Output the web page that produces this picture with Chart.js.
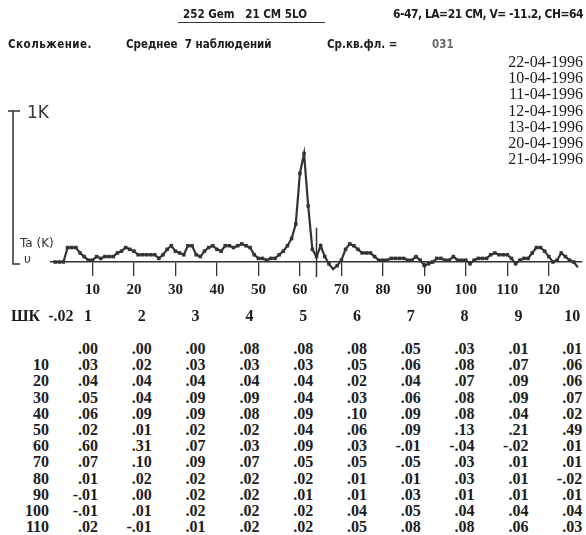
<!DOCTYPE html>
<html>
<head>
<meta charset="utf-8">
<script src="https://cdn.jsdelivr.net/npm/chart.js@4.4.0/dist/chart.umd.min.js"></script>
<style>
body { margin: 0; background: #fff; width: 586px; height: 535px; position: relative; overflow: hidden; color: #1c1c1c; }
#c { position: absolute; left: 0; top: 0; }
.t { position: absolute; white-space: nowrap; line-height: 16px; }
.hd { font-family: "DejaVu Sans Condensed", "DejaVu Sans", sans-serif; font-size: 11.5px; font-weight: bold; }
.sr { font-family: "Liberation Serif", serif; font-size: 16px; font-weight: bold; }
.hw { font-family: "DejaVu Sans", sans-serif; font-weight: normal; color: #333; }
</style>
</head>
<body>
<canvas id="c" width="586" height="306"></canvas>

<div class="t hd" style="left:183px;top:6px">252 Gem&nbsp;&nbsp;&nbsp;21 CM 5LO</div>
<div style="position:absolute;left:178px;top:22px;width:147px;height:1px;background:#333"></div>
<div class="t hd" style="left:393px;top:6px;font-size:12px;letter-spacing:-0.5px">6-47, LA=21 CM, V= -11.2, CH=64</div>
<div class="t hd" style="left:8px;top:36px;letter-spacing:0.5px">Скольжение.</div>
<div class="t hd" style="left:126px;top:36px">Среднее&nbsp;&nbsp;7 наблюдений</div>
<div class="t hd" style="left:327px;top:36px">Cp.кв.фл. =</div>
<div class="t hd" style="left:432px;top:36px;color:#666">031</div>
<div id="dates" class="t sr" style="right:3px;top:54px;text-align:right;font-weight:normal;line-height:16.2px"></div>

<div class="t hw" style="left:27px;top:104px;font-size:17px">1K</div>
<div class="t hw" style="left:20px;top:235px;font-size:12px">Ta (K)</div>
<div class="t hw" style="left:24px;top:251px;font-size:12px">υ</div>

<div id="table"></div>

<script>
// observation dates (right column)
const dates = ['22-04-1996', '10-04-1996', '11-04-1996', '12-04-1996', '13-04-1996', '20-04-1996', '21-04-1996'];

// table: Ta (K) per channel, row label + column number = channel
const rowLabels = ['', '10', '20', '30', '40', '50', '60', '70', '80', '90', '100', '110'];
const colLabels = ['1', '2', '3', '4', '5', '6', '7', '8', '9', '10'];
const r0   = [0.00, 0.00, 0.00, 0.08, 0.08, 0.08, 0.05, 0.03, 0.01, 0.01];
const r10  = [0.03, 0.02, 0.03, 0.03, 0.03, 0.05, 0.06, 0.08, 0.07, 0.06];
const r20  = [0.04, 0.04, 0.04, 0.04, 0.04, 0.02, 0.04, 0.07, 0.09, 0.06];
const r30  = [0.05, 0.04, 0.09, 0.09, 0.04, 0.03, 0.06, 0.08, 0.09, 0.07];
const r40  = [0.06, 0.09, 0.09, 0.08, 0.09, 0.10, 0.09, 0.08, 0.04, 0.02];
const r50  = [0.02, 0.01, 0.02, 0.02, 0.04, 0.06, 0.09, 0.13, 0.21, 0.49];
const r60  = [0.60, 0.31, 0.07, 0.03, 0.09, 0.03, -0.01, -0.04, -0.02, 0.01];
const r70  = [0.07, 0.10, 0.09, 0.07, 0.05, 0.05, 0.05, 0.03, 0.01, 0.01];
const r80  = [0.01, 0.02, 0.02, 0.02, 0.02, 0.01, 0.01, 0.03, 0.01, -0.02];
const r90  = [-0.01, 0.00, 0.02, 0.02, 0.01, 0.01, 0.03, 0.01, 0.01, 0.01];
const r100 = [-0.01, 0.01, 0.02, 0.02, 0.02, 0.04, 0.05, 0.04, 0.04, 0.04];
const r110 = [0.02, -0.01, 0.01, 0.02, 0.02, 0.05, 0.08, 0.08, 0.06, 0.03];
const tableRows = [r0, r10, r20, r30, r40, r50, r60, r70, r80, r90, r100, r110];
// channels 121-127, only in the plot
const tail = [0.00, 0.01, 0.05, 0.03, 0.01, 0.00, -0.03];

const xTickVals = [10, 20, 30, 40, 50, 60, 70, 80, 90, 100, 110, 120];
const markCh = 64;   // CH=64 marker

const ta = tableRows.flat().concat(tail);

// right column of dates
document.getElementById('dates').innerHTML = dates.join('<br>');

// TABLE

function fmt(v) {
    let s = Math.abs(v).toFixed(2).replace(/^0/, '');
    return v < 0 ? '-' + s : s;
}

const tbl = document.getElementById('table');
let html = '<div class="t sr" style="left:11px;top:308px">ШК&nbsp;&nbsp;-.02</div>';
colLabels.forEach((c, k) => {
    const cx = 88 + k * 53.8;
    html += `<div class="t sr" style="left:${cx - 20}px;top:308px;width:40px;text-align:center">${c}</div>`;
});
tableRows.forEach((row, i) => {
    const top = 341 + i * 16.2;
    html += `<div class="t sr" style="left:0;top:${top}px;width:49px;text-align:right">${rowLabels[i]}</div>`;
    row.forEach((v, k) => {
        const rx = 98 + k * 53.8;
        html += `<div class="t sr" style="left:${rx - 50}px;top:${top}px;width:50px;text-align:right">${fmt(v)}</div>`;
    });
});
tbl.innerHTML = html;

// CHART

// axis line on the far left, top tick, and the CH marker
const decor = {
    id: 'decor',
    afterDraw(chart) {
        const {ctx, chartArea, scales: {x, y}} = chart;
        const y0 = y.getPixelForValue(0);
        ctx.save();
        ctx.strokeStyle = '#333';
        ctx.lineWidth = 1.5;
        ctx.beginPath();
        ctx.moveTo(13, chartArea.top - 1);
        ctx.lineTo(13, y0 + 2);
        ctx.lineTo(20, y0 + 2);
        ctx.moveTo(8, chartArea.top - 1);
        ctx.lineTo(20, chartArea.top - 1);
        const xm = x.getPixelForValue(markCh);
        ctx.moveTo(xm, y.getPixelForValue(0.19));
        ctx.lineTo(xm, y0 + 15);
        ctx.stroke();
        ctx.restore();
    }
};

const ctx = document.getElementById('c').getContext('2d');
new Chart(ctx, {
    type: 'line',
    data: {
        datasets: [{
            data: ta.map((v, i) => ({x: i + 1, y: v})),
            borderColor: '#333',
            backgroundColor: '#333',
            borderWidth: 2.2,
            pointStyle: 'rect',
            pointRadius: 2.5,
            pointBorderWidth: 0,
            tension: 0,
            clip: false,
        }]
    },
    options: {
        responsive: false,
        animation: false,
        layout: {padding: {top: 112, left: 51, right: 1, bottom: 2}},
        plugins: {legend: {display: false}, tooltip: {enabled: false}},
        scales: {
            x: {
                type: 'linear',
                min: 0,
                max: 128,
                afterBuildTicks: (scale) => { scale.ticks = xTickVals.map(v => ({value: v})); },
                grid: {drawOnChartArea: false, drawTicks: true, tickLength: 14, color: '#333', lineWidth: 1.3},
                border: {display: true, color: '#333', width: 1.5},
                ticks: {
                    padding: 5,
                    maxRotation: 0,
                    autoSkip: false,
                    color: '#1c1c1c',
                    font: {family: 'Liberation Serif', size: 15, weight: 'bold'},
                },
            },
            y: {
                display: false,
                min: 0,
                max: 0.83,
            },
        },
    },
    plugins: [decor],
});
</script>
</body>
</html>
